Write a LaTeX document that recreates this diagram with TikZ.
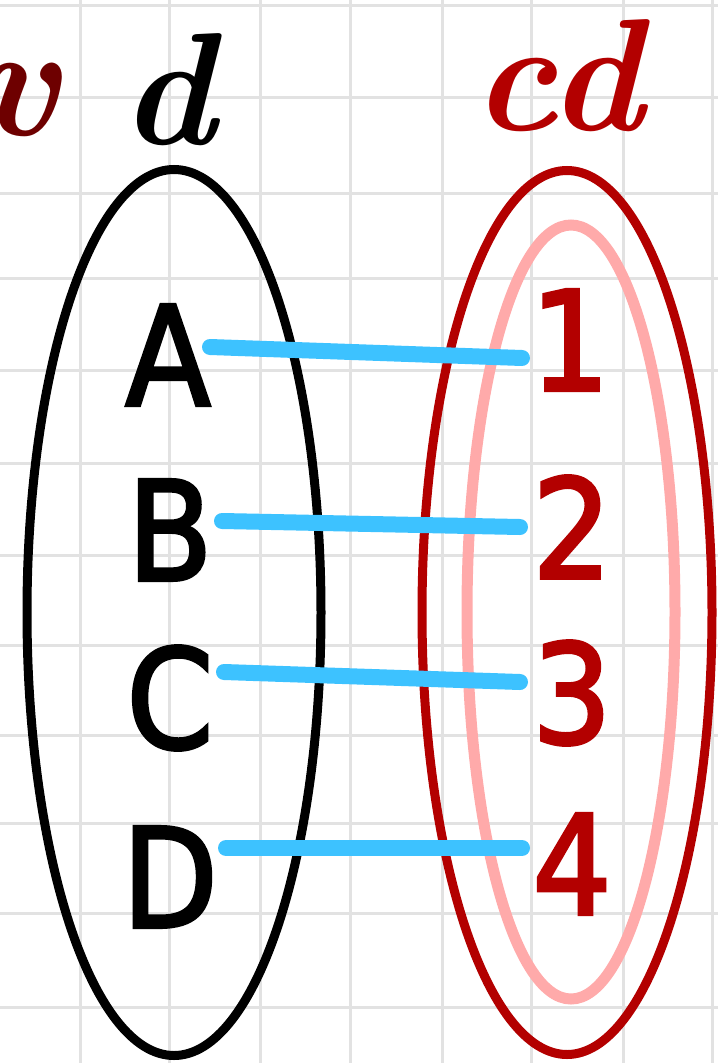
\documentclass[tikz,border=0pt]{standalone}
\usepackage{fontspec}
\newfontfamily\signfont[FakeStretch=0.9,FakeBold=2.5]{DejaVu Sans}
\definecolor{gridc}{HTML}{E2E2E2}
\definecolor{setred}{HTML}{B30000}
\definecolor{pinkc}{HTML}{FFAAAA}
\definecolor{linkc}{HTML}{3DC2FF}
\definecolor{vred}{HTML}{6E0000}
\tikzset{
  gridline/.style={gridc, line width=3},
  elem/.style={font=\signfont\fontsize{138}{138}\selectfont, inner sep=0pt, anchor=center},
  link/.style={linkc, line width=16, line cap=round},
  hand/.style={font=\bfseries\itshape\fontsize{160}{160}\selectfont, inner sep=0pt}
}
\begin{document}
\begin{tikzpicture}[x=1pt,y=-1pt]
\useasboundingbox (0,0) rectangle (718,1063);
\fill[white] (0,0) rectangle (718,1063);
% grid
\foreach \gx in {80,169,260,350,442,531,623,712}
  \draw[gridline] (\gx,0) -- (\gx,1063);
\foreach \gy in {5,97,193,278,370,463,555,645,735,823,913,1007}
  \draw[gridline] (0,\gy) -- (718,\gy);
% sets
\draw[black, line width=9] (174,612.5) ellipse [x radius=147, y radius=443];
\draw[setred, line width=9] (567,612.5) ellipse [x radius=145, y radius=442];
\draw[pinkc, line width=11] (571,612) ellipse [x radius=104, y radius=387];
% headings
\node[hand, black] (hd) at (168,90) {d};
\node[hand, setred] (hcd) at (558,76) {cd};
\node[hand, vred] (hv) at (16,100) {v};
% elements
\node[elem, black] (A) at (168,355) {A};
\node[elem, black] (B) at (170,530) {B};
\node[elem, black] (C) at (170,698) {C};
\node[elem, black] (D) at (170,877) {D};
\node[elem, setred] (n1) at (570,340) {1};
\node[elem, setred] (n2) at (572,527) {2};
\node[elem, setred] (n3) at (572,693) {3};
\node[elem, setred] (n4) at (572,864) {4};
% connector ends
\coordinate (a0) at (210,347); \coordinate (a1) at (522,358);
\coordinate (b0) at (222,521); \coordinate (b1) at (520,527);
\coordinate (c0) at (224,672); \coordinate (c1) at (520,682);
\coordinate (d0) at (226,848); \coordinate (d1) at (522,848);
\draw[link] (a0) -- (a1);
\draw[link] (b0) -- (b1);
\draw[link] (c0) -- (c1);
\draw[link] (d0) -- (d1);
\end{tikzpicture}
\end{document}
